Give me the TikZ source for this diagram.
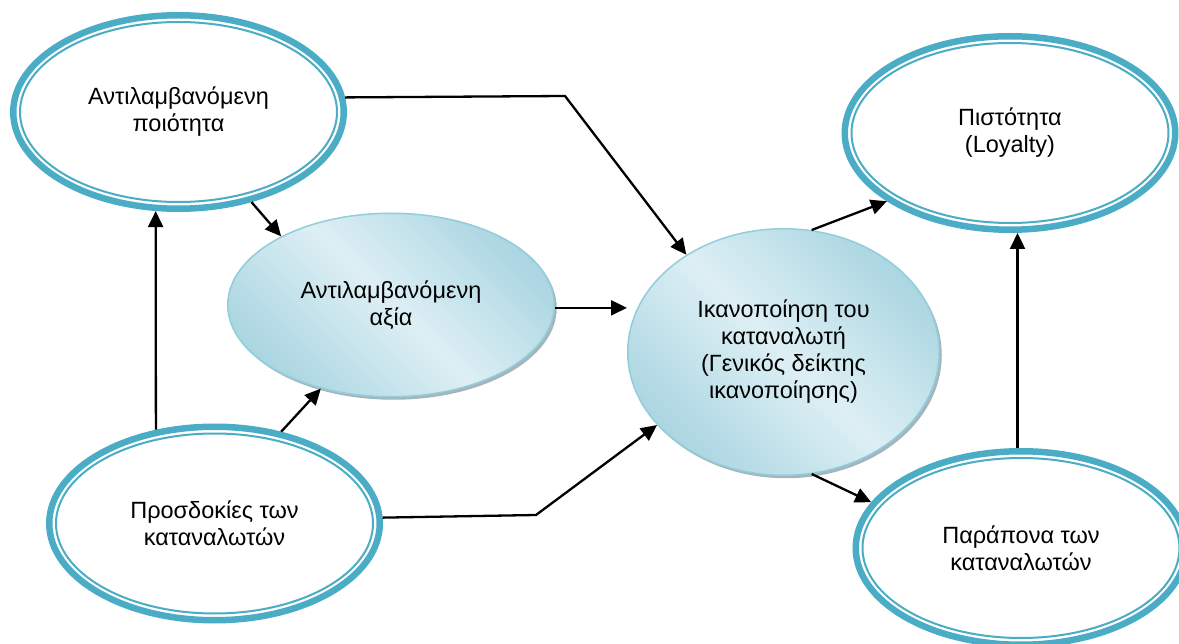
\documentclass[tikz,border=0pt]{standalone}
\usepackage{fontspec}
\setmainfont{Liberation Sans}
\usetikzlibrary{shapes.geometric,arrows.meta,shadows}
\definecolor{ringblue}{HTML}{4BACC6}
\definecolor{fillLight}{HTML}{DDEFF4}
\definecolor{fillDark}{HTML}{A5D3E0}
\definecolor{fillEdge}{HTML}{92CDDC}
\definecolor{shadowgrey}{HTML}{8FA3AB}
\pgfdeclarehorizontalshading{reflblue}{100bp}{color(0bp)=(fillDark); color(22bp)=(fillDark); color(50bp)=(fillLight); color(78bp)=(fillDark); color(100bp)=(fillDark)}
\tikzset{
  txt/.style={font=\fontsize{23.5}{27}\selectfont, align=center, text=black},
  ringell/.style={ellipse, draw=ringblue, line width=6.5pt, fill=white, minimum width=330.5pt, minimum height=193.5pt, inner sep=0pt, txt},
  innerring/.style={draw=ringblue, line width=2pt},
  blobell/.style={ellipse, draw=fillEdge, line width=1.5pt, shade, shading=reflblue, shading angle=45, inner sep=0pt, txt, drop shadow={shadow xshift=2.5pt, shadow yshift=-3pt, fill=shadowgrey, opacity=0.8}},
  conn/.style={line width=2.3pt, -{Triangle[length=16pt,width=15pt]}},
}
\begin{document}
\begin{tikzpicture}[x=1pt,y=-1pt]
\useasboundingbox (0,0) rectangle (1179,644);
\node[ringell] (q) at (178.5,112) {Αντιλαμβανόμενη\\ποιότητα};
\node[ringell] (l) at (1010,133) {Πιστότητα\\(Loyalty)};
\node[ringell] (e) at (214.5,523.5) {Προσδοκίες των\\καταναλωτών};
\node[ringell] (c) at (1021,548) {Παράπονα των\\καταναλωτών};
\foreach \n in {q,l,e,c}{
  \draw[innerring] (\n.center) ellipse [x radius=158.5pt, y radius=90pt];
}
\node[blobell, minimum width=326.5pt, minimum height=183.5pt] (v) at (391,305) {Αντιλαμβανόμενη\\αξία};
\node[blobell, minimum width=311.5pt, minimum height=246.5pt] (s) at (783.5,352) {Ικανοποίηση του\\καταναλωτή\\(Γενικός δείκτης\\ικανοποίησης)};
\coordinate (qsbend) at (565,96);
\coordinate (esbend) at (536,515);
\draw[conn] (q.5) -- (qsbend) -- (s.135.6);
\draw[conn] (q.-51.5) -- (v.148.2);
\draw[conn] (e.122.5) -- (q.-103.6);
\draw[conn] (e.54.5) -- (v.230.3);
\draw[conn] (e.2.2) -- (esbend) -- (s.210.8);
\draw[conn] (v.-1.8) -- (v.-1.8 -| s.west);
\draw[conn] (s.77.4) -- (l.209.3);
\draw[conn] (s.-77.7) -- (c.163);
\draw[conn] (c.92) -- (c.92 |- l.south);
\end{tikzpicture}
\end{document}
